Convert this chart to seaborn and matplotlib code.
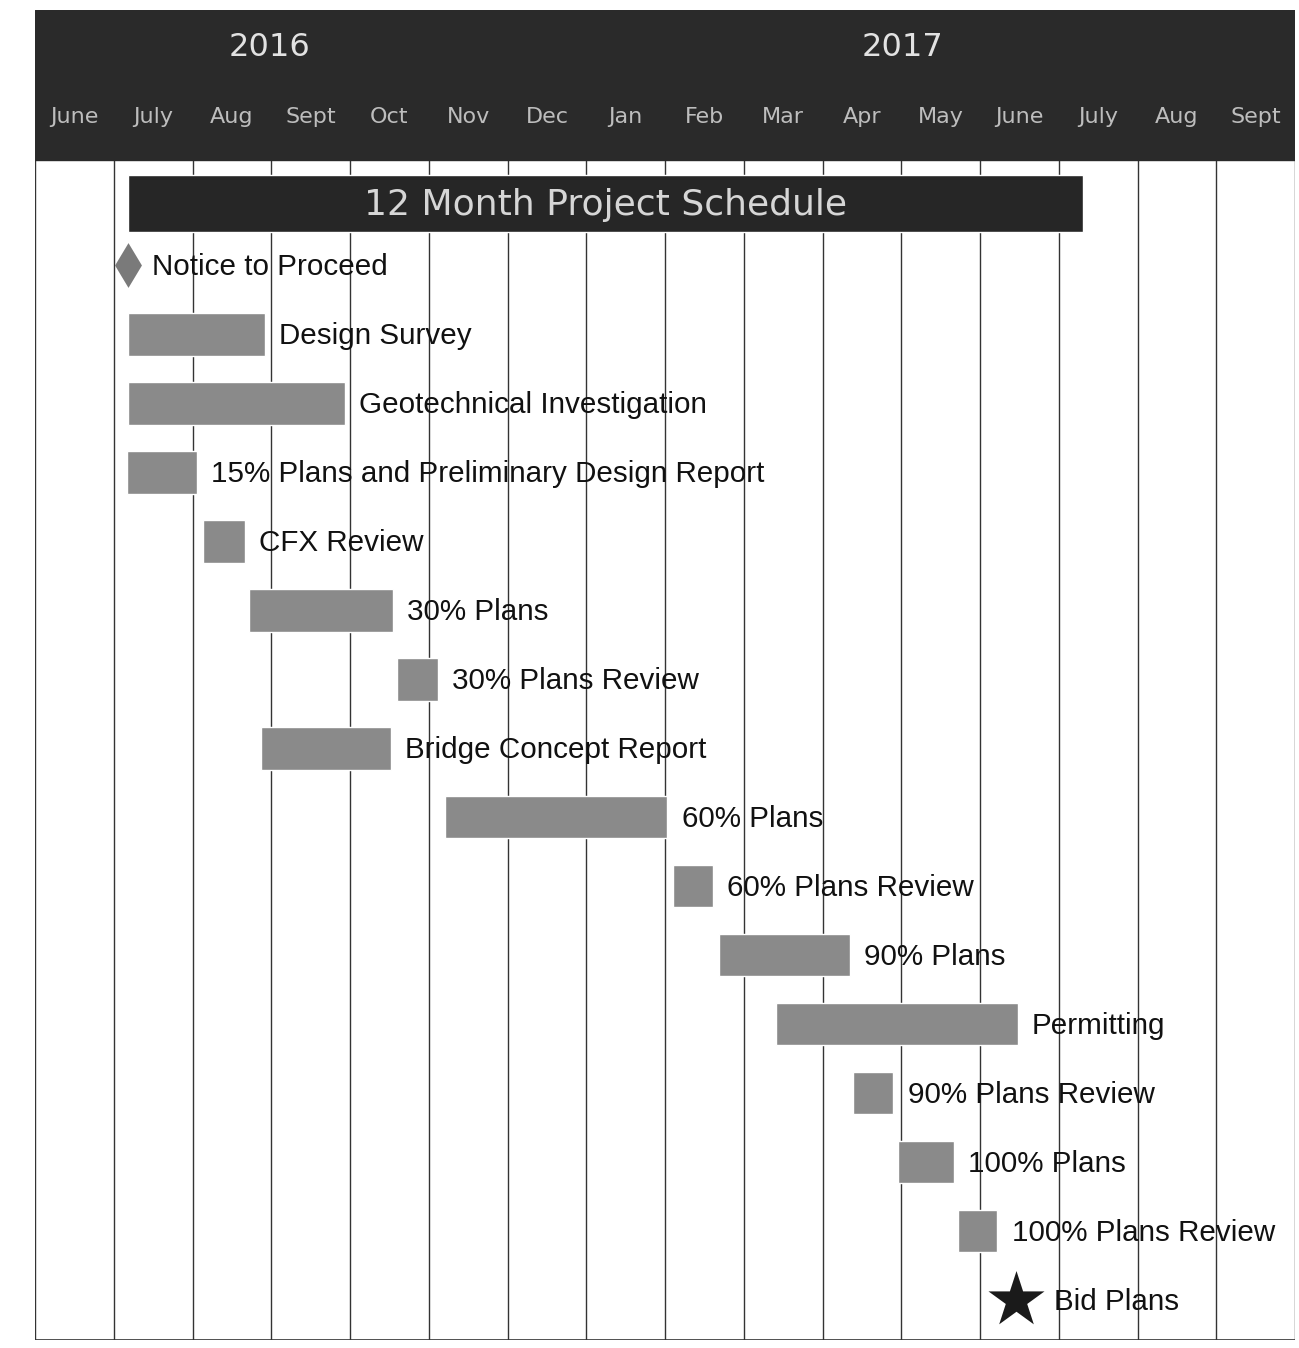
import numpy as np
import pandas as pd
import matplotlib.pyplot as plt
import seaborn as sns

# months along the top (June 2016 .. Sept 2017)
months = ['June', 'July', 'Aug', 'Sept', 'Oct', 'Nov', 'Dec', 'Jan',
          'Feb', 'Mar', 'Apr', 'May', 'June', 'July', 'Aug', 'Sept']
years = ['2016', '2017']
year_pos = [2.98, 11.02]

# tasks, start / end in months from 1 June 2016
tasks = ['Design Survey', 'Geotechnical Investigation',
         '15% Plans and Preliminary Design Report', 'CFX Review',
         '30% Plans', '30% Plans Review', 'Bridge Concept Report',
         '60% Plans', '60% Plans Review', '90% Plans', 'Permitting',
         '90% Plans Review', '100% Plans', '100% Plans Review']
task_row = [2, 3, 4, 5, 6, 7, 8, 9, 10, 11, 12, 13, 14, 15]
start = [1.18, 1.18, 1.17, 2.13, 2.72, 4.60, 2.87, 5.21, 8.10, 8.69, 9.41, 10.39, 10.96, 11.72]
end = [2.92, 3.94, 2.06, 2.67, 4.55, 5.12, 4.52, 8.03, 8.61, 10.35, 12.48, 10.90, 11.67, 12.22]

milestones = ['Notice to Proceed', 'Bid Plans']
milestone_row = [1, 16]
milestone_at = [1.18, 12.46]

title = '12 Month Project Schedule'
title_span = (1.18, 13.31)

df = pd.DataFrame({'task': tasks, 'row': task_row, 'start': start, 'end': end})
df['dur'] = df['end'] - df['start']

sns.set_theme(style='white')
plt.rcParams['font.family'] = ['Liberation Sans', 'DejaVu Sans']

fig = plt.figure(figsize=(12.99, 13.48), dpi=100)
ax = fig.add_axes([35 / 1299, 8 / 1348, 1260 / 1299, 1330 / 1348])

# header band
ax.axhspan(-2.70, -0.52, xmin=0, xmax=1, color='#2a2a2a', zorder=1)
for i, m in enumerate(months):
    ax.text(i + 0.5, -1.15, m, ha='center', va='center', fontsize=16,
            color='#bdbdbd', family='DejaVu Sans', zorder=3)
for y, p in zip(years, year_pos):
    ax.text(p, -2.15, y, ha='center', va='center', fontsize=23,
            color='#e2e2e2', family='DejaVu Sans', zorder=3)

# month grid
for i in range(17):
    ax.plot([i, i], [-0.52, 16.58], color='#333333', lw=1.0, zorder=0)
ax.plot([0, 16], [16.58, 16.58], color='#333333', lw=1.2, zorder=0)

# title bar
ax.barh(0.1, title_span[1] - title_span[0], left=title_span[0], height=0.83,
        color='#262626', zorder=2)
ax.text(np.mean(title_span), 0.12, title, ha='center', va='center',
        fontsize=26, color='#d6d6d6', family='DejaVu Sans', zorder=3)

# task bars
ax.barh(df['row'], df['dur'], left=df['start'], height=0.62,
        color='#8a8a8a', zorder=2)
for _, r in df.iterrows():
    ax.text(r['end'] + 0.18, r['row'] + 0.03, r['task'], ha='left', va='center',
            fontsize=21.3, color='#111111', zorder=3)

# milestones
ms = pd.DataFrame({'name': milestones, 'row': milestone_row, 'x': milestone_at})
sns.scatterplot(data=ms.iloc[[0]], x='x', y='row', marker='d', s=520,
                color='#7a7a7a', linewidth=0, ax=ax, zorder=3)
sns.scatterplot(data=ms.iloc[[1]], x='x', y='row', marker='*', s=1800,
                color='#1a1a1a', linewidth=0, ax=ax, zorder=3)
ax.text(milestone_at[0] + 0.3, milestone_row[0] + 0.03, milestones[0], ha='left',
        va='center', fontsize=21.3, color='#111111', zorder=3)
ax.text(milestone_at[1] + 0.48, milestone_row[1] + 0.03, milestones[1], ha='left',
        va='center', fontsize=21.3, color='#111111', zorder=3)

ax.set_xlim(0, 16)
ax.set_ylim(16.58, -2.70)
ax.axis('off')

fig.savefig('out.png', dpi=100)
